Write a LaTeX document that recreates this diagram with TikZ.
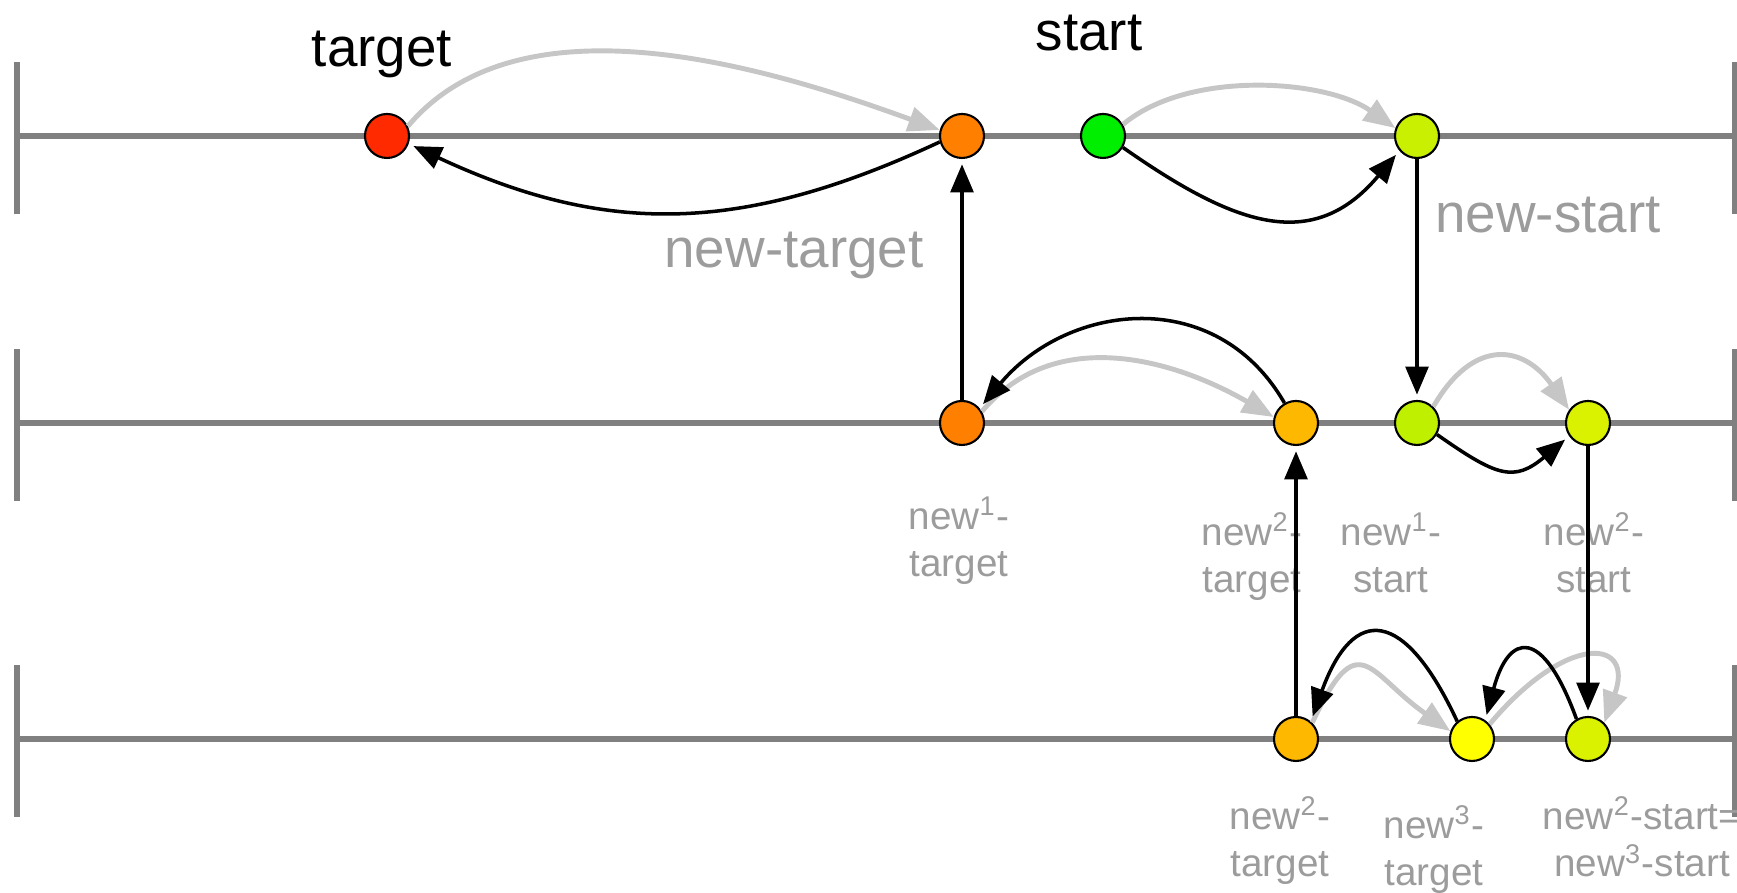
\documentclass[tikz,border=0pt]{standalone}
\usepackage{fontspec}
\setmainfont{Liberation Sans}
\definecolor{TrackGray}{HTML}{808080}
\definecolor{GhostGray}{HTML}{C6C6C6}
\definecolor{LabelGray}{HTML}{9C9C9C}
\definecolor{PtRed}{HTML}{FF2A00}
\definecolor{PtOrange}{HTML}{FF8000}
\definecolor{PtGreen}{HTML}{00EE00}
\definecolor{PtLime}{HTML}{C8F000}
\definecolor{PtLimeA}{HTML}{BEF000}
\definecolor{PtLimeB}{HTML}{DAF200}
\definecolor{PtAmber}{HTML}{FFB800}
\definecolor{PtYellow}{HTML}{FFFF00}
\usetikzlibrary{arrows.meta}

\begin{document}
\begin{tikzpicture}[>={Triangle[length=8pt,width=6.5pt]},
    pt/.style={circle,draw=black,line width=0.6pt,inner sep=0pt,minimum size=0.44cm},
    track/.style={TrackGray,line width=1.6pt},
    jump/.style={->,line width=1pt,shorten >=1.5pt},
    ghost/.style={-{Triangle[length=9pt,width=7pt]},GhostGray,line width=1.4pt},
    tag/.style={font=\fontsize{15.6}{18}\selectfont,anchor=base,inner sep=0pt},
    small/.style={LabelGray,font=\fontsize{11}{13.4}\selectfont,align=center,anchor=base,inner sep=0pt}]
  \useasboundingbox (0,0) rectangle (17.37,8.93);

  % the three number lines
  \foreach \y in {7.57,4.70,1.54} {
    \draw[track] (0.17,\y) -- (17.35,\y);
    \draw[track] (0.17,\y-0.78) -- (0.17,\y+0.74);
    \draw[track] (17.35,\y-0.78) -- (17.35,\y+0.74);
  }

  % first line
  \node[pt,fill=PtRed] (t0) at (3.87,7.57) {};
  \node[pt,fill=PtOrange] (t1) at (9.62,7.57) {};
  \node[pt,fill=PtGreen] (s0) at (11.03,7.57) {};
  \node[pt,fill=PtLime] (s1) at (14.17,7.57) {};
  % second line
  \node[pt,fill=PtOrange] (t1b) at (9.62,4.70) {};
  \node[pt,fill=PtAmber] (t2) at (12.96,4.70) {};
  \node[pt,fill=PtLimeA] (s1b) at (14.17,4.70) {};
  \node[pt,fill=PtLimeB] (s2) at (15.88,4.70) {};
  % third line
  \node[pt,fill=PtAmber] (t2b) at (12.96,1.54) {};
  \node[pt,fill=PtYellow] (t3) at (14.72,1.54) {};
  \node[pt,fill=PtLimeB] (s3) at (15.88,1.54) {};

  \node[tag] (lt) at (3.82,8.26) {target};
  \node[tag] (ls) at (10.89,8.42) {start};
  \node[tag,LabelGray] (lnt) at (7.94,6.25) {new-target};
  \node[tag,LabelGray] (lns) at (15.48,6.60) {new-start};

  % base of these is the lower line
  \node[small] (l1t) at (9.59,3.16) {new\textsuperscript{1}-\\target};
  \node[small] (l2t) at (12.52,3.00) {new\textsuperscript{2}-\\target};
  \node[small] (l1s) at (13.91,3.00) {new\textsuperscript{1}-\\start};
  \node[small] (l2s) at (15.94,3.00) {new\textsuperscript{2}-\\start};
  \node[small] (l2tb) at (12.80,0.16) {new\textsuperscript{2}-\\target};
  \node[small] (l3t) at (14.34,0.07) {new\textsuperscript{3}-\\target};
  \node[small] (l3s) at (16.42,0.16) {new\textsuperscript{2}-start=\\new\textsuperscript{3}-start};

  % gray: probing steps
  \draw[ghost] (t0.25) to[out=50,in=160,looseness=0.85] (t1.165);
  \draw[ghost] (s0.30) to[out=40,in=145,looseness=0.8] (s1.160);
  \draw[ghost] (t1b.30) to[out=50,in=150] (t2.165);
  \draw[ghost] (s1b.45) to[out=60,in=125,looseness=1.5] (s2.145);
  \draw[ghost] (t2b.45) to[out=65,in=145,out distance=1.1cm,in distance=1cm] (t3.160);
  \draw[ghost] (t3.40) to[out=50,in=70,out distance=1.2cm,in distance=0.9cm] (s3.45);

  % black: moves
  \draw[jump] (t1.195) to[out=205,in=-25,looseness=1.05] (t0.-20);
  \draw[jump] (s0.-30) to[out=-35,in=230,looseness=1.25] (s1.220);
  \draw[jump] (t2.120) to[out=120,in=50,looseness=1.15] (t1b.40);
  \draw[jump] (s1b.-30) to[out=-35,in=220,looseness=1.4] (s2.215);
  \draw[jump] (t3.130) to[out=115,in=70,distance=1.25cm] (t2b.50);
  \draw[jump] (s3.120) to[out=110,in=75,out distance=1cm,in distance=0.9cm] (t3.55);

  % between the lines
  \draw[jump] (t1b) -- (t1);
  \draw[jump] (s1) -- (s1b);
  \draw[jump] (t2b) -- (t2);
  \draw[jump] (s2) -- (s3);
\end{tikzpicture}
\end{document}
